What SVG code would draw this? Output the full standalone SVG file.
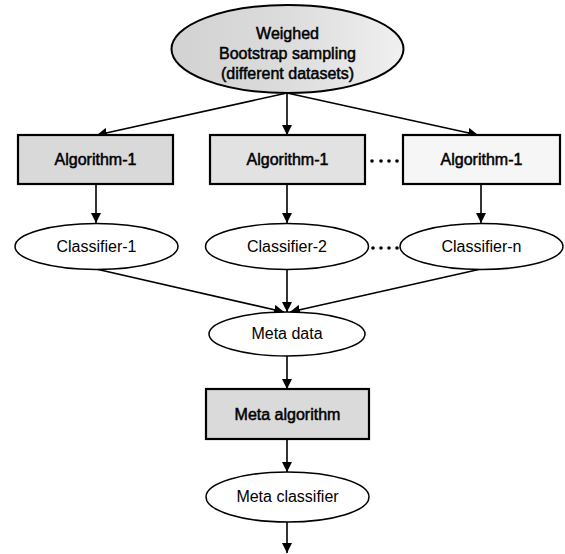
<svg xmlns="http://www.w3.org/2000/svg" width="565" height="554" viewBox="0 0 565 554">
<style>
.t{font-family:"Liberation Sans",Arial,sans-serif;font-size:16px;fill:#000;text-anchor:middle}
.b{stroke:#000;stroke-width:0.5}
.box{stroke:#000;stroke-width:2.2}
.ell{fill:#fff;stroke:#000;stroke-width:1.5}
.c{stroke:#000;stroke-width:1.6;fill:none;marker-end:url(#ah)}
.dot{fill:#000}
</style>
<defs>
<marker id="ah" viewBox="0 0 10 10" refX="10" refY="5" markerWidth="10" markerHeight="10" markerUnits="userSpaceOnUse" orient="auto">
<path d="M0,0 L10,5 L0,10 z" fill="#000"/>
</marker>
<linearGradient id="gtop" x1="0" y1="0" x2="1" y2="0">
<stop offset="0" stop-color="#d2d2d2"/>
<stop offset="0.5" stop-color="#dcdcdc"/>
<stop offset="1" stop-color="#f0f0f0"/>
</linearGradient>
</defs>
<g id="connectors">
<line class="c" x1="287" y1="93" x2="287" y2="135"/>
<line class="c" x1="287" y1="93" x2="97" y2="135"/>
<line class="c" x1="287" y1="93" x2="478" y2="135"/>
<line class="c" x1="96" y1="184" x2="96" y2="223"/>
<line class="c" x1="287" y1="184" x2="287" y2="223"/>
<line class="c" x1="481" y1="184" x2="481" y2="223"/>
<line class="c" x1="96" y1="269" x2="284" y2="312"/>
<line class="c" x1="287" y1="270" x2="287" y2="312"/>
<line class="c" x1="481" y1="269" x2="290" y2="312"/>
<line class="c" x1="287" y1="356" x2="287" y2="389"/>
<line class="c" x1="287" y1="439" x2="287" y2="472"/>
<line class="c" x1="287" y1="522" x2="287" y2="553"/>
<circle class="dot" cx="372" cy="161" r="1.8"/>
<circle class="dot" cx="381" cy="161" r="1.8"/>
<circle class="dot" cx="389" cy="161" r="1.8"/>
<circle class="dot" cx="397" cy="161" r="1.8"/>
<circle class="dot" cx="373" cy="248" r="1.8"/>
<circle class="dot" cx="381" cy="248" r="1.8"/>
<circle class="dot" cx="389" cy="248" r="1.8"/>
<circle class="dot" cx="397" cy="248" r="1.8"/>
</g>
<g id="sampling">
<ellipse cx="287.5" cy="49" rx="116" ry="44" fill="url(#gtop)" stroke="#000" stroke-width="2"/>
<text class="t b" x="287.5" y="39" font-size="17">Weighed</text>
<text class="t b" x="287.5" y="59" font-size="17">Bootstrap sampling</text>
<text class="t b" x="287.5" y="79" font-size="17">(different datasets)</text>
</g>
<g id="algo1">
<rect class="box" x="18" y="135" width="155" height="49" fill="#d9d9d9"/>
<text class="t b" x="95.5" y="165">Algorithm-1</text>
</g>
<g id="algo2">
<rect class="box" x="210" y="135" width="155" height="49" fill="#e2e2e2"/>
<text class="t b" x="287.5" y="165">Algorithm-1</text>
</g>
<g id="algo3">
<rect class="box" x="403" y="135" width="157" height="49" fill="#f6f6f6"/>
<text class="t b" x="481.5" y="165">Algorithm-1</text>
</g>
<g id="classifier1">
<ellipse class="ell" cx="96.5" cy="246.5" rx="81.5" ry="23"/>
<text class="t" x="96.5" y="252">Classifier-1</text>
</g>
<g id="classifier2">
<ellipse class="ell" cx="287" cy="246.5" rx="81.5" ry="23"/>
<text class="t" x="287" y="252">Classifier-2</text>
</g>
<g id="classifiern">
<ellipse class="ell" cx="481.5" cy="246.5" rx="81.5" ry="23"/>
<text class="t" x="481.5" y="252">Classifier-n</text>
</g>
<g id="metadata">
<ellipse class="ell" cx="287" cy="334" rx="78" ry="22"/>
<text class="t" x="287" y="339">Meta data</text>
</g>
<g id="metaalgorithm">
<rect class="box" x="206" y="389" width="163" height="50" fill="#dadada"/>
<text class="t b" x="287.5" y="420">Meta algorithm</text>
</g>
<g id="metaclassifier">
<ellipse class="ell" cx="287.5" cy="497" rx="81.5" ry="25"/>
<text class="t" x="287.5" y="502">Meta classifier</text>
</g>
</svg>
